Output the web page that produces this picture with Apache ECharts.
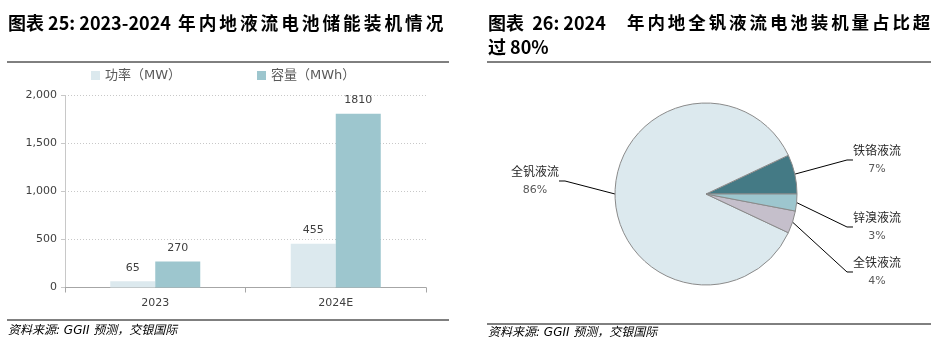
<!DOCTYPE html>
<html><head><meta charset="utf-8">
<script src="https://cdn.jsdelivr.net/npm/echarts@6/dist/echarts.min.js"></script>
<style>html,body{margin:0;padding:0;background:#fff}#c{width:935px;height:351px}</style>
</head><body><div id="c"></div>
<script>
const categories = ['2023', '2024E'];
const powerMW = [65, 455];
const capacityMWh = [270, 1810];
const seriesNames = ['功率（MW）', '容量（MWh）'];
const yTicks = [0, 500, 1000, 1500, 2000];
const pieNames = ['铁铬液流', '全钒液流', '全铁液流', '锌溴液流'];
const pieValues = [7, 86, 4, 3];

const CJK = '"DejaVu Sans","Noto Sans CJK SC",sans-serif';
const TF = '"Noto Sans CJK SC",sans-serif';
const sp = (s, c) => s.split('').join(c);
const chart = echarts.init(document.getElementById('c'));
const labelPos = [[877,160],[535,181],[877,272],[877,227]];
const tStyle = {fontFamily:TF, fontSize:18, fontWeight:'bold', color:'#000'};

chart.setOption({
  animation: false,
  title: [
    {text:'图表 25: 2023-2024', left:8, top:14, padding:0, textStyle:tStyle},
    {text:sp('年内地液流电池储能装机情况', '\u2006'), left:178, top:14, padding:0, textStyle:Object.assign({}, tStyle, {fontSize:17.7})},
    {text:'图表  26: 2024', left:488, top:14, padding:0, textStyle:tStyle},
    {text:sp('年内地全钒液流电池装机量占比超', '\u2006'), left:627, top:14, padding:0, textStyle:Object.assign({}, tStyle, {fontSize:17.5})},
    {text:'过 80%', left:488, top:38, padding:0, textStyle:tStyle},
    {text:'资料来源: GGII 预测，交银国际', left:8, top:325, padding:0,
     textStyle:{fontFamily:CJK, fontSize:12, fontStyle:'italic', fontWeight:'normal', color:'#000'}},
    {text:'资料来源: GGII 预测，交银国际', left:488, top:327, padding:0,
     textStyle:{fontFamily:CJK, fontSize:12, fontStyle:'italic', fontWeight:'normal', color:'#000'}}
  ],
  graphic: [
    {type:'line', shape:{x1:7,y1:62,x2:449,y2:62}, style:{stroke:'#000', lineWidth:1}},
    {type:'line', shape:{x1:7,y1:320,x2:449,y2:320}, style:{stroke:'#000', lineWidth:1}},
    {type:'line', shape:{x1:487,y1:62,x2:931,y2:62}, style:{stroke:'#000', lineWidth:1}},
    {type:'line', shape:{x1:487,y1:324,x2:931,y2:324}, style:{stroke:'#000', lineWidth:1}}
  ],
  legend: [
    {data:[seriesNames[0]], left:86, top:64, icon:'rect', itemWidth:9, itemHeight:9, itemGap:4,
     textStyle:{fontFamily:CJK, fontSize:13, color:'#595959'}},
    {data:[seriesNames[1]], left:252, top:64, icon:'rect', itemWidth:9, itemHeight:9, itemGap:4,
     textStyle:{fontFamily:CJK, fontSize:13, color:'#595959'}}
  ],
  grid: {left:65, right:509, top:95.5, bottom:63.5},
  xAxis: {type:'category', data:categories,
    axisLine:{lineStyle:{color:'#a6a6a6'}},
    axisTick:{show:true, length:5, lineStyle:{color:'#a6a6a6'}},
    axisLabel:{fontFamily:CJK, fontSize:11, color:'#404040', margin:10}},
  yAxis: {type:'value', min:yTicks[0], max:yTicks[yTicks.length-1], interval:500,
    axisLine:{show:true, lineStyle:{color:'#c8c8c8'}},
    axisTick:{show:true, length:4, lineStyle:{color:'#c8c8c8'}},
    splitLine:{lineStyle:{color:'#c8c8c8', type:[1,2]}},
    axisLabel:{fontFamily:CJK, fontSize:11, color:'#404040', margin:8,
      formatter: v => v.toLocaleString('en-US')}},
  series: [
    {name:seriesNames[0], type:'bar', data:powerMW, barWidth:45, barGap:'0%',
     itemStyle:{color:'#dce9ee'},
     label:{show:true, position:'top', distance:8, fontFamily:CJK, fontSize:11, color:'#404040'}},
    {name:seriesNames[1], type:'bar', data:capacityMWh, barWidth:45,
     itemStyle:{color:'#9dc6ce'},
     label:{show:true, position:'top', distance:8, fontFamily:CJK, fontSize:11, color:'#404040'}},
    {name:'pie', type:'pie', center:[706,194], radius:[0,91], startAngle:0, clockwise:false,
     data: pieNames.map((n,i)=>({name:n, value:pieValues[i]})),
     color:['#447a85','#dce9ee','#c5bfcb','#9dc6ce'],
     itemStyle:{borderColor:'#8a8a8a', borderWidth:1},
     label:{show:true, formatter:'{n|{b}}\n{p|{d}%}', align:'center',
       rich:{n:{fontFamily:CJK, fontSize:12, color:'#262626', lineHeight:18, align:'center'},
             p:{fontFamily:CJK, fontSize:11, color:'#595959', lineHeight:17, align:'center'}}},
     labelLine:{show:true, length:15, length2:6, lineStyle:{color:'#000', width:1}},
     labelLayout: p => ({x:labelPos[p.dataIndex][0], y:labelPos[p.dataIndex][1], align:'center', verticalAlign:'middle'}),
     emphasis:{disabled:true}}
  ]
});
</script></body></html>
